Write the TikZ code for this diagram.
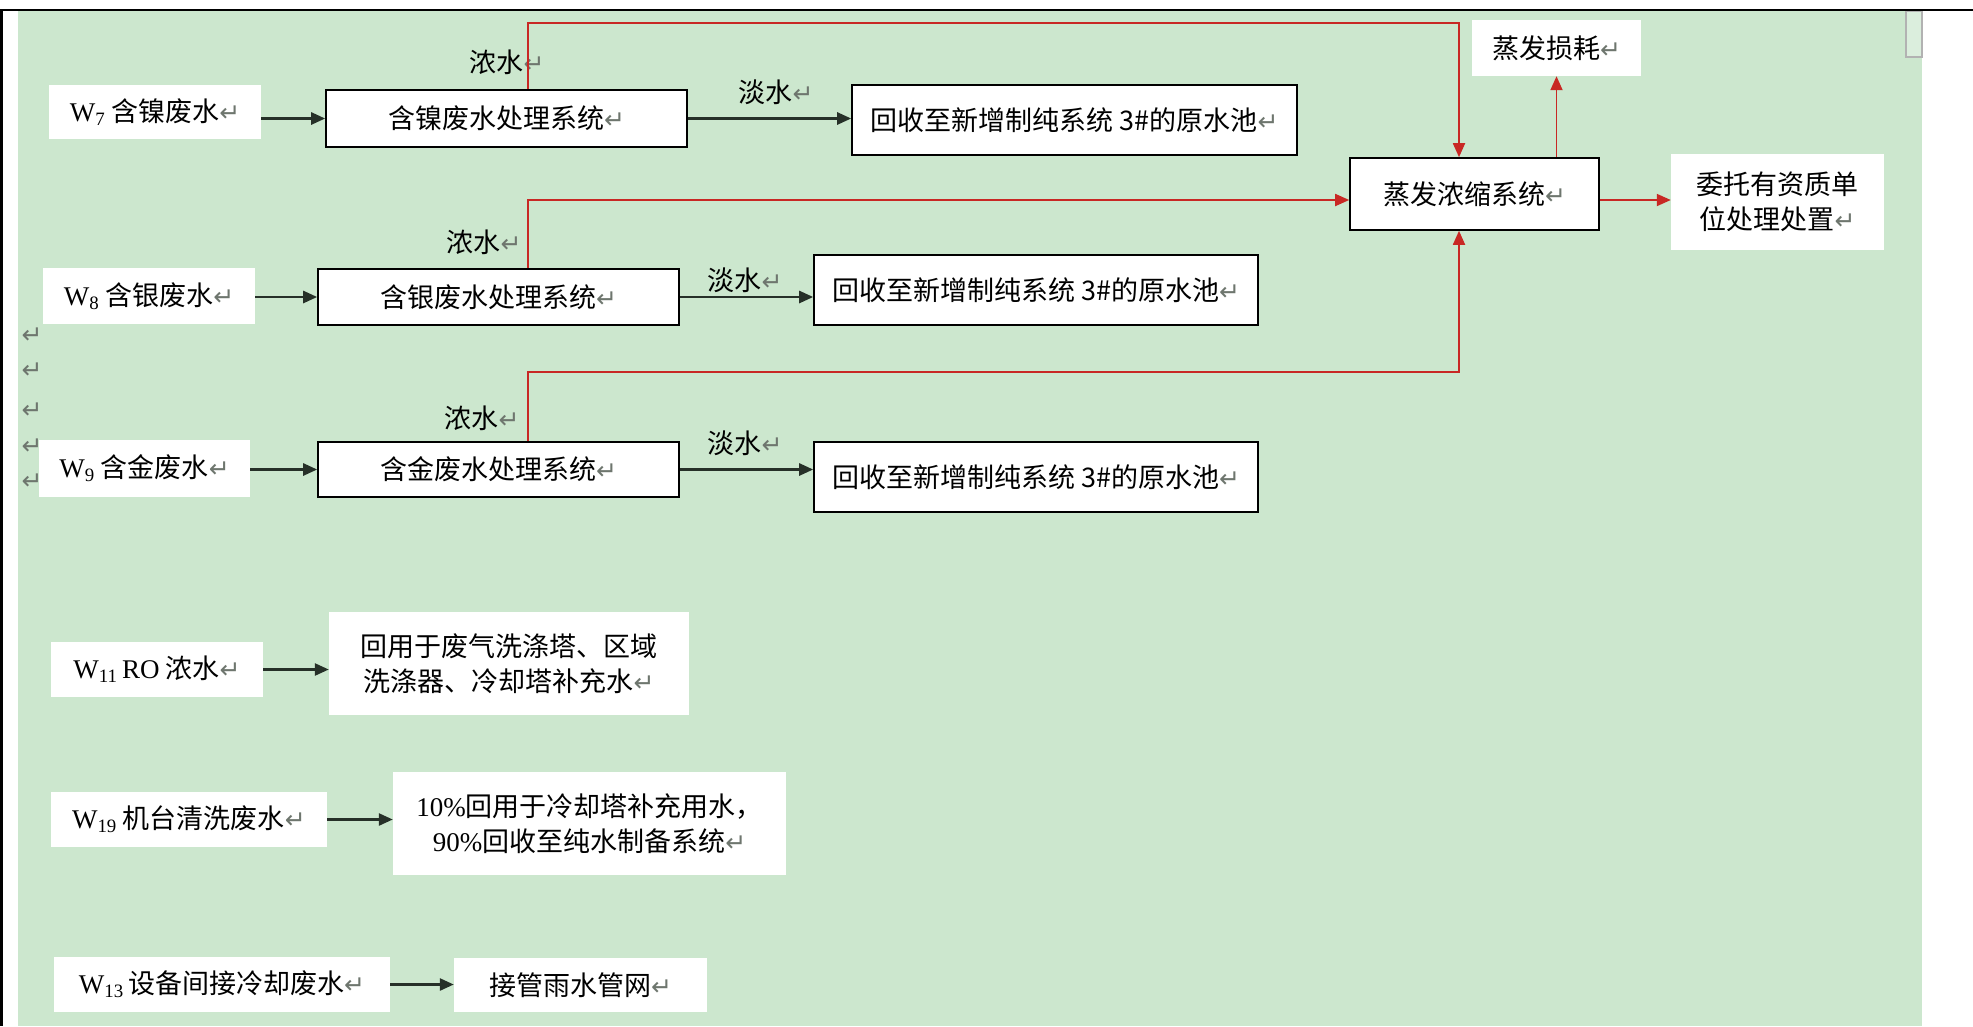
\documentclass[tikz,border=0pt]{standalone}
\usepackage{fontspec}
\setmainfont{Liberation Serif}
\newfontfamily\cjk{Noto Sans CJK SC}
\newfontfamily\symf{DejaVu Sans}
\usetikzlibrary{arrows.meta}
\definecolor{eyegreen}{RGB}{204,231,206}
\definecolor{flowred}{RGB}{200,40,36}
\definecolor{flowdark}{RGB}{38,48,40}
\definecolor{pmgray}{RGB}{110,118,110}
\newcommand{\pmk}{{\symf\fontsize{25}{25}\selectfont\color{pmgray}↵}}
\newcommand{\wno}[1]{{\rmfamily W\textsubscript{#1}}}
\tikzset{>={Triangle[length=14pt,width=12pt]}}

\begin{document}
\begin{tikzpicture}[x=1pt, y=-1pt,
    plain/.style={fill=white, inner sep=0pt, align=center, font=\cjk\fontsize{27}{35}\selectfont},
    sysbox/.style={plain, draw=black, line width=1.6pt},
    tag/.style={inner sep=0pt, font=\cjk\fontsize{27}{35}\selectfont},
    darrow/.style={->, draw=flowdark, line width=2.6pt},
    rarrow/.style={->, draw=flowred, line width=1.8pt}]
    \useasboundingbox (0,0) rectangle (1973,1026);
    \fill[white] (0,0) rectangle (1973,1026);
    \fill[eyegreen] (18,11) rectangle (1922,1026);
    \draw[gray!60, fill=eyegreen!70!white, line width=1.5pt] (1906,11) rectangle (1922,57);
    \draw[line width=2.5pt] (0,10) -- (1973,10);
    \draw[line width=3pt] (1.5,10) -- (1.5,1026);
    \foreach \y in {336,371,411,447,482}
    \node[inner sep=0pt] (pm\y) at (32,\y) {\pmk};
    \coordinate (nsplit) at (528,0);
    \coordinate (evin) at (1459,0);
    \coordinate (run1) at (0,23);
    \coordinate (run2) at (0,200);
    \coordinate (run3) at (0,372);
    \node[plain, minimum width=212, minimum height=54] (w7) at (155,112) {\wno{7}\ 含镍废水\pmk};
    \node[sysbox, minimum width=361, minimum height=57] (ni) at (506.5,118.5) {含镍废水处理系统\pmk};
    \node[sysbox, minimum width=445, minimum height=70] (rc1) at (1074.5,120) {回收至新增制纯系统 3\#的原水池\pmk};
    \node[plain, minimum width=212, minimum height=56] (w8) at (149,296) {\wno{8}\ 含银废水\pmk};
    \node[sysbox, minimum width=361, minimum height=56] (ag) at (498.5,297) {含银废水处理系统\pmk};
    \node[sysbox, minimum width=444, minimum height=70] (rc2) at (1036,290) {回收至新增制纯系统 3\#的原水池\pmk};
    \node[plain, minimum width=211, minimum height=57] (w9) at (144.5,468.5) {\wno{9}\ 含金废水\pmk};
    \node[sysbox, minimum width=361, minimum height=55] (au) at (498.5,469.5) {含金废水处理系统\pmk};
    \node[sysbox, minimum width=444, minimum height=70] (rc3) at (1036,477) {回收至新增制纯系统 3\#的原水池\pmk};
    \node[sysbox, minimum width=249, minimum height=72] (evap) at (1474.5,194) {蒸发浓缩系统\pmk};
    \node[plain, minimum width=169, minimum height=56] (loss) at (1556.5,48) {蒸发损耗\pmk};
    \node[plain, minimum width=213, minimum height=96] (dispose) at (1777.5,202) {委托有资质单\\位处理处置\pmk};
    \node[plain, minimum width=212, minimum height=55] (w11) at (157,669.5) {\wno{11}\,{\rmfamily RO} 浓水\pmk};
    \node[plain, minimum width=360, minimum height=103] (reuse) at (509,663.5) {回用于废气洗涤塔、区域\\洗涤器、冷却塔补充水\pmk};
    \node[plain, minimum width=276, minimum height=55] (w19) at (189,819.5) {\wno{19}\ 机台清洗废水\pmk};
    \node[plain, minimum width=393, minimum height=103] (pct) at (589.5,823.5) {{\rmfamily 10\%}回用于冷却塔补充用水，\\{\rmfamily 90\%}回收至纯水制备系统\pmk};
    \node[plain, minimum width=336, minimum height=55] (w13) at (222,984.5) {\wno{13}\,设备间接冷却废水\pmk};
    \node[plain, minimum width=253, minimum height=54] (rain) at (580.5,985) {接管雨水管网\pmk};
    \node[tag] (nong1) at (507,62) {浓水\pmk};
    \node[tag] (nong2) at (484,242) {浓水\pmk};
    \node[tag] (nong3) at (482,418) {浓水\pmk};
    \node[tag] (dan1) at (776,92) {淡水\pmk};
    \node[tag] (dan2) at (745,280) {淡水\pmk};
    \node[tag] (dan3) at (745,443) {淡水\pmk};
    \draw[darrow] (w7.east |- ni) -- (ni.west);
    \draw[darrow] (w8.east |- ag) -- (ag.west);
    \draw[darrow] (w9.east |- au) -- (au.west);
    \draw[darrow] (ni.east) -- (ni.east -| rc1.west);
    \draw[darrow] (ag.east) -- (ag.east -| rc2.west);
    \draw[darrow] (au.east) -- (au.east -| rc3.west);
    \draw[darrow] (w11.east) -- (w11.east -| reuse.west);
    \draw[darrow] (w19.east) -- (w19.east -| pct.west);
    \draw[darrow] (w13.east) -- (w13.east -| rain.west);
    \draw[rarrow] (ni.north -| nsplit) -- (nsplit |- run1) -| (evap.north -| evin);
    \draw[rarrow] (ag.north -| nsplit) |- (evap.west |- run2);
    \draw[rarrow] (au.north -| nsplit) |- (evin |- run3) -- (evap.south -| evin);
    \draw[rarrow] (evap.north -| loss) -- (loss.south);
    \draw[rarrow] (evap.east |- run2) -- (dispose.west |- run2);
\end{tikzpicture}
\end{document}
